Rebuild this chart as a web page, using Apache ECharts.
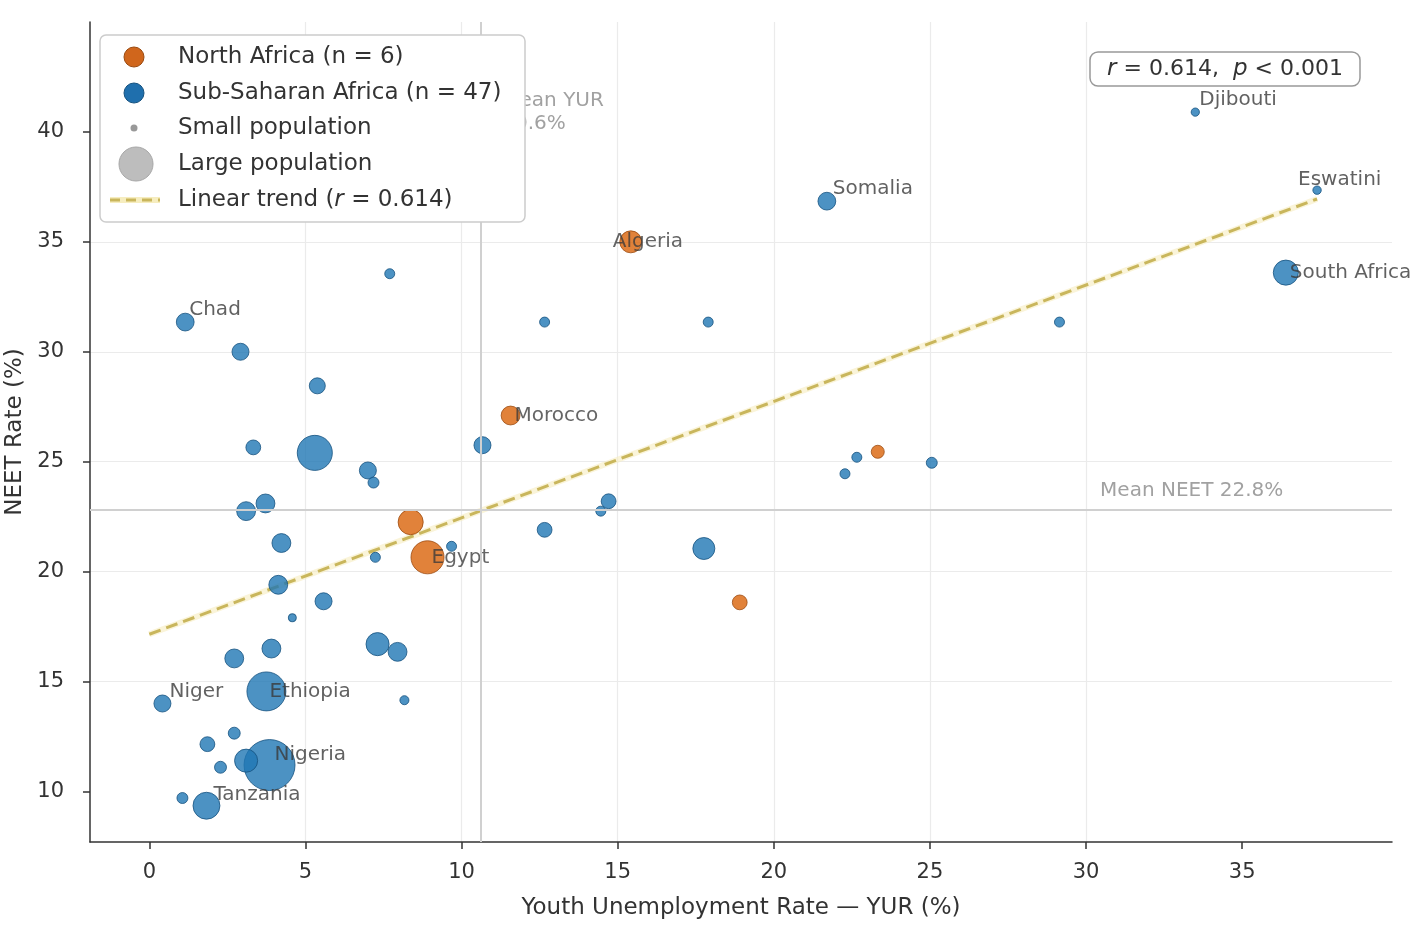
<!DOCTYPE html>
<html>
<head>
<meta charset="utf-8">
<title>Youth unemployment vs NEET rate</title>
<script src="https://cdn.jsdelivr.net/npm/echarts@6.0.0/dist/echarts.min.js"></script>
<style>
  html, body { margin: 0; padding: 0; background: #fff; }
  #chart { width: 1417px; height: 925px; }
</style>
</head>
<body>
<div id="chart"></div>
<script>
// Sub-Saharan Africa: YUR (%), NEET (%), population (millions)
const ssaNames = ['Djibouti', 'Eswatini', 'Somalia', 'South Africa', 'Chad', 'Niger', 'Ethiopia', 'Nigeria', 'Tanzania',
  '', '', '', '', '', '', '', '', '', '', '', '', '', '', '', '', '', '', '', '', '', '', '', '', '', '', '', '', '', '', '', '', '', '', '', '']
const ssaYur = [33.5, 37.4, 21.7, 36.4, 1.15, 0.42, 3.75, 3.85, 1.83,
  7.7, 12.66, 17.9, 29.15, 2.92, 5.38, 3.33, 5.3, 7.0, 7.18, 10.67, 3.1, 3.72, 4.23, 4.13, 5.58, 7.24, 4.58, 9.68,
  12.66, 14.71, 14.46, 17.76, 22.66, 22.28, 25.06, 7.31, 7.95, 3.91, 2.72, 8.17, 2.72, 1.86, 2.28, 3.1, 1.06]
const ssaNeet = [40.9, 37.35, 36.85, 33.6, 31.35, 14.0, 14.55, 11.2, 9.35,
  33.55, 31.35, 31.35, 31.35, 30.0, 28.45, 25.65, 25.4, 24.6, 24.05, 25.75, 22.75, 23.1, 21.3, 19.4, 18.65, 20.65, 17.9, 21.15,
  21.9, 23.2, 22.75, 21.05, 25.2, 24.45, 24.95, 16.7, 16.35, 16.5, 16.05, 14.15, 12.65, 12.15, 11.1, 11.4, 9.7]
const ssaPop = [1.1, 1.2, 17, 42, 17, 15, 120, 220, 50,
  2.6, 2.6, 2.6, 2.6, 15, 12.6, 10, 94, 15, 3.7, 15, 20, 20, 20, 20, 15, 2.6, 0.9, 2.6,
  10, 10, 2.6, 30, 2.6, 2.6, 3.7, 34, 20, 20, 20, 1.7, 5, 10, 5, 34, 3.7]

// North Africa
const naNames = ['Algeria', 'Morocco', 'Egypt', '', '', '']
const naYur = [15.42, 11.57, 8.91, 8.37, 18.91, 23.33]
const naNeet = [35.0, 27.1, 20.65, 22.25, 18.6, 25.45]
const naPop = [30, 20, 82, 42, 10, 6.7]

// linear trend end points and means
const trendYur = [0, 37.4]
const trendNeet = [17.15, 36.95]
const meanYur = 10.6
const meanNeet = 22.8

const xTicks = [0, 5, 10, 15, 20, 25, 30, 35]
const yTicks = [10, 15, 20, 25, 30, 35, 40]

const legendLabels = ['North Africa (n = 6)', 'Sub-Saharan Africa (n = 47)', 'Small population', 'Large population', 'Linear trend ({i|r} = 0.614)']

const font = 'DejaVu Sans'
const blue = '#1f77b4'
const orange = '#d95f02'
const trendColor = '#c9b65c'

const labelOffsets = {
  Djibouti: [4, -12],
  Eswatini: [-19, -10],
  Somalia: [6, -12],
  'South Africa': [4, 0],
  Chad: [4, -12],
  Niger: [7, -12],
  Ethiopia: [3, 0],
  Nigeria: [5, -10],
  Tanzania: [7, -11],
  Algeria: [-18, 0],
  Morocco: [4, 0],
  Egypt: [4, 0]
}

function labelFor(name) {
  if (!name) return { show: false }
  return {
    show: true,
    formatter: '{b}',
    position: 'inside',
    align: 'left',
    verticalAlign: 'middle',
    offset: labelOffsets[name],
    color: '#3a3a3a',
    fontSize: 20,
    fontFamily: font
  }
}

function bubbles(names, yur, neet, pop) {
  return yur.map((x, i) => ({ value: [x, neet[i], pop[i]], name: names[i], label: labelFor(names[i]) }))
}

const sizeOf = v => 2 * (2.5 + 1.55 * Math.sqrt(v[2]))

const trendData = trendYur.map((x, i) => [x, trendNeet[i]])

const textStyle = (x, y, text, extra) => ({
  type: 'text',
  z: 101,
  x: x,
  y: y,
  style: Object.assign({
    text: text,
    fontSize: 23,
    fontFamily: font,
    fill: '#333',
    verticalAlign: 'middle',
    rich: { i: { fontStyle: 'italic', fontSize: 23, fontFamily: font, fill: '#333' } }
  }, extra || {})
})

const myChart = echarts.init(document.getElementById('chart'))
const option = {
  backgroundColor: '#fff',
  animation: false,
  grid: {
    left: 90,
    right: 25,
    top: 22,
    bottom: 83,
    containLabel: false,
    outerBoundsMode: 'none'
  },
  xAxis: {
    type: 'value',
    min: -1.9,
    max: 39.8,
    minInterval: 5,
    maxInterval: 5,
    name: 'Youth Unemployment Rate — YUR (%)',
    nameLocation: 'middle',
    nameGap: 55,
    nameTextStyle: { fontSize: 23, color: '#333', fontFamily: font },
    axisLine: { show: true, onZero: false, lineStyle: { color: '#333', width: 1.5 } },
    axisTick: { show: true, customValues: xTicks, length: 7, inside: false, lineStyle: { color: '#333', width: 1.5 } },
    axisLabel: { customValues: xTicks, fontSize: 21, color: '#333', fontFamily: font, margin: 20 },
    splitLine: { show: true, showMinLine: false, showMaxLine: false, lineStyle: { color: '#ebebeb', width: 1.2 } }
  },
  yAxis: {
    type: 'value',
    min: 7.7,
    max: 45,
    minInterval: 5,
    maxInterval: 5,
    name: 'NEET Rate (%)',
    nameLocation: 'middle',
    nameGap: 62,
    nameTextStyle: { fontSize: 23, color: '#333', fontFamily: font },
    axisLine: { show: true, onZero: false, lineStyle: { color: '#333', width: 1.5 } },
    axisTick: { show: true, customValues: yTicks, length: 7, inside: false, lineStyle: { color: '#333', width: 1.5 } },
    axisLabel: { customValues: yTicks, fontSize: 21, color: '#333', fontFamily: font, margin: 26 },
    splitLine: { show: true, showMinLine: false, showMaxLine: false, lineStyle: { color: '#ebebeb', width: 1.2 } }
  },
  series: [
    {
      name: 'means',
      type: 'scatter',
      z: 1,
      symbolSize: 1,
      itemStyle: { color: 'transparent' },
      data: [
        { value: [meanYur, 40.9], label: { formatter: 'Mean YUR\n' + meanYur + '%', offset: [22, 0] } },
        { value: [30.45, meanNeet], label: { formatter: 'Mean NEET ' + meanNeet + '%', offset: [0, -19] } }
      ],
      label: {
        show: true,
        position: 'inside',
        align: 'left',
        verticalAlign: 'middle',
        color: '#8a8a8a',
        fontSize: 20,
        lineHeight: 23,
        fontFamily: font
      },
      markLine: {
        silent: true,
        symbol: ['none', 'none'],
        label: { show: false },
        lineStyle: { color: '#d0d0d0', width: 2, type: 'solid' },
        data: [{ xAxis: meanYur }, { yAxis: meanNeet }]
      }
    },
    {
      name: 'trend glow',
      type: 'line',
      z: 2,
      silent: true,
      showSymbol: false,
      data: trendData,
      lineStyle: { color: '#f6edbf', width: 6, opacity: 0.6 }
    },
    {
      name: 'Linear trend',
      type: 'line',
      z: 2,
      showSymbol: false,
      data: trendData,
      lineStyle: { color: trendColor, width: 3, type: [12, 6] }
    },
    {
      name: 'Sub-Saharan Africa',
      type: 'scatter',
      z: 3,
      symbolSize: sizeOf,
      data: bubbles(ssaNames, ssaYur, ssaNeet, ssaPop),
      itemStyle: { color: blue, opacity: 0.8, borderColor: '#16527f', borderWidth: 1 }
    },
    {
      name: 'North Africa',
      type: 'scatter',
      z: 3,
      symbolSize: sizeOf,
      data: bubbles(naNames, naYur, naNeet, naPop),
      itemStyle: { color: orange, opacity: 0.78, borderColor: '#9a4a10', borderWidth: 1 }
    }
  ],
  graphic: [
    {
      type: 'rect',
      z: 100,
      shape: { x: 100, y: 35, width: 425, height: 187, r: 6 },
      style: { fill: '#ffffff', stroke: '#cccccc', lineWidth: 1.5 }
    },
    { type: 'circle', z: 101, shape: { cx: 134, cy: 57, r: 10 }, style: { fill: '#d0661c', stroke: '#9a4a10', lineWidth: 1 } },
    { type: 'circle', z: 101, shape: { cx: 134, cy: 93, r: 10 }, style: { fill: '#1f6fad', stroke: '#16527f', lineWidth: 1 } },
    { type: 'circle', z: 101, shape: { cx: 134, cy: 128, r: 3.5 }, style: { fill: '#999999' } },
    { type: 'circle', z: 101, shape: { cx: 136, cy: 164, r: 17 }, style: { fill: '#bdbdbd', stroke: '#a8a8a8', lineWidth: 1 } },
    { type: 'line', z: 101, shape: { x1: 110, y1: 200, x2: 160, y2: 200 }, style: { stroke: '#f6edbf', lineWidth: 6 } },
    { type: 'line', z: 101, shape: { x1: 110, y1: 200, x2: 160, y2: 200 }, style: { stroke: trendColor, lineWidth: 3, lineDash: [10, 6] } },
    textStyle(178, 57, legendLabels[0]),
    textStyle(178, 93, legendLabels[1]),
    textStyle(178, 128, legendLabels[2]),
    textStyle(178, 164, legendLabels[3]),
    textStyle(178, 200, legendLabels[4]),
    {
      type: 'rect',
      z: 100,
      shape: { x: 1090, y: 52, width: 270, height: 34, r: 8 },
      style: { fill: '#fff', stroke: '#999999', lineWidth: 1.5 }
    },
    textStyle(1225, 69, '{i|r} = 0.614,  {i|p} < 0.001', { align: 'center', fontSize: 22 })
  ]
}
myChart.setOption(option)
</script>
</body>
</html>
